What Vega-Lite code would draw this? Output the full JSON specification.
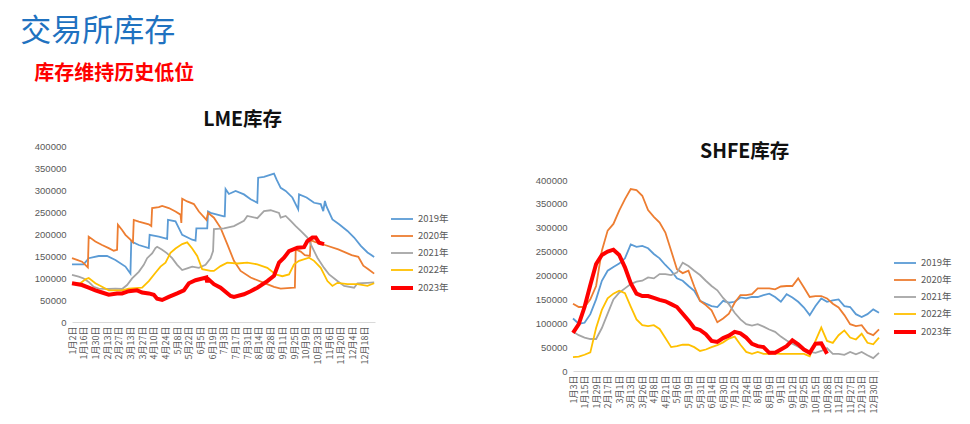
{
"$schema": "https://vega.github.io/schema/vega-lite/v6.json",
"padding": {"left": 20, "top": 15, "right": 0, "bottom": 0},
"config": {
  "view": {"stroke": null},
  "font": "Noto Sans CJK SC",
  "axis": {"labelColor": "#595959", "grid": false, "ticks": false}
},
"title": {"text": "交易所库存", "anchor": "start", "fontSize": 31, "fontWeight": "normal", "color": "#1F72C0", "dx": -14, "offset": 16},
"vconcat": [{
  "title": {"text": "库存维持历史低位", "anchor": "start", "fontSize": 20, "fontWeight": "bold", "color": "#FF0000", "offset": 26},
  "spacing": 86,
  "resolve": {"scale": {"color": "independent", "strokeWidth": "independent"}, "legend": {"color": "independent", "strokeWidth": "independent"}},
  "hconcat": [
  {
    "width": 303, "height": 176,
    "title": {"text": "LME库存", "fontSize": 19.5, "fontWeight": "bold", "color": "#111111", "anchor": "middle", "frame": "bounds", "offset": 11, "dx": 1},
    "data": {"values": [
{"series":"2019年","date":"2023/01/02","value":131000},{"series":"2019年","date":"2023/01/16","value":131000},{"series":"2019年","date":"2023/01/22","value":145000},{"series":"2019年","date":"2023/02/03","value":150000},{"series":"2019年","date":"2023/02/13","value":150000},{"series":"2019年","date":"2023/02/23","value":141000},{"series":"2019年","date":"2023/03/07","value":126000},{"series":"2019年","date":"2023/03/13","value":110000},{"series":"2019年","date":"2023/03/14","value":183000},{"series":"2019年","date":"2023/03/23","value":175000},{"series":"2019年","date":"2023/04/04","value":168000},{"series":"2019年","date":"2023/04/05","value":198000},{"series":"2019年","date":"2023/04/16","value":194000},{"series":"2019年","date":"2023/04/26","value":189000},{"series":"2019年","date":"2023/04/27","value":232000},{"series":"2019年","date":"2023/05/06","value":229000},{"series":"2019年","date":"2023/05/14","value":198000},{"series":"2019年","date":"2023/05/26","value":187000},{"series":"2019年","date":"2023/05/30","value":185000},{"series":"2019年","date":"2023/05/31","value":213000},{"series":"2019年","date":"2023/06/13","value":213000},{"series":"2019年","date":"2023/06/14","value":251000},{"series":"2019年","date":"2023/06/17","value":248000},{"series":"2019年","date":"2023/07/03","value":240000},{"series":"2019年","date":"2023/07/04","value":240000},{"series":"2019年","date":"2023/07/05","value":302000},{"series":"2019年","date":"2023/07/09","value":291000},{"series":"2019年","date":"2023/07/17","value":298000},{"series":"2019年","date":"2023/07/27","value":290000},{"series":"2019年","date":"2023/08/04","value":279000},{"series":"2019年","date":"2023/08/12","value":271000},{"series":"2019年","date":"2023/08/13","value":328000},{"series":"2019年","date":"2023/08/20","value":330000},{"series":"2019年","date":"2023/09/01","value":337000},{"series":"2019年","date":"2023/09/04","value":324000},{"series":"2019年","date":"2023/09/09","value":305000},{"series":"2019年","date":"2023/09/15","value":298000},{"series":"2019年","date":"2023/09/23","value":283000},{"series":"2019年","date":"2023/09/30","value":256000},{"series":"2019年","date":"2023/10/01","value":290000},{"series":"2019年","date":"2023/10/10","value":283000},{"series":"2019年","date":"2023/10/19","value":271000},{"series":"2019年","date":"2023/10/27","value":268000},{"series":"2019年","date":"2023/10/30","value":252000},{"series":"2019年","date":"2023/11/01","value":275000},{"series":"2019年","date":"2023/11/03","value":262000},{"series":"2019年","date":"2023/11/10","value":233000},{"series":"2019年","date":"2023/11/18","value":222000},{"series":"2019年","date":"2023/11/28","value":207000},{"series":"2019年","date":"2023/12/06","value":192000},{"series":"2019年","date":"2023/12/14","value":173000},{"series":"2019年","date":"2023/12/22","value":158000},{"series":"2019年","date":"2023/12/30","value":148000},
{"series":"2020年","date":"2023/01/02","value":145000},{"series":"2020年","date":"2023/01/08","value":141000},{"series":"2020年","date":"2023/01/14","value":137000},{"series":"2020年","date":"2023/01/21","value":124000},{"series":"2020年","date":"2023/01/22","value":194000},{"series":"2020年","date":"2023/01/30","value":183000},{"series":"2020年","date":"2023/02/07","value":175000},{"series":"2020年","date":"2023/02/15","value":168000},{"series":"2020年","date":"2023/02/21","value":162000},{"series":"2020年","date":"2023/02/25","value":164000},{"series":"2020年","date":"2023/02/26","value":221000},{"series":"2020年","date":"2023/03/03","value":209000},{"series":"2020年","date":"2023/03/07","value":198000},{"series":"2020年","date":"2023/03/13","value":187000},{"series":"2020年","date":"2023/03/16","value":181000},{"series":"2020年","date":"2023/03/17","value":232000},{"series":"2020年","date":"2023/03/23","value":228000},{"series":"2020年","date":"2023/04/04","value":222000},{"series":"2020年","date":"2023/04/07","value":218000},{"series":"2020年","date":"2023/04/08","value":259000},{"series":"2020年","date":"2023/04/16","value":261000},{"series":"2020年","date":"2023/04/20","value":264000},{"series":"2020年","date":"2023/04/28","value":259000},{"series":"2020年","date":"2023/05/06","value":251000},{"series":"2020年","date":"2023/05/12","value":244000},{"series":"2020年","date":"2023/05/13","value":225000},{"series":"2020年","date":"2023/05/14","value":280000},{"series":"2020年","date":"2023/05/20","value":274000},{"series":"2020年","date":"2023/05/28","value":268000},{"series":"2020年","date":"2023/06/03","value":251000},{"series":"2020年","date":"2023/06/12","value":232000},{"series":"2020年","date":"2023/06/14","value":248000},{"series":"2020年","date":"2023/06/21","value":237000},{"series":"2020年","date":"2023/06/29","value":214000},{"series":"2020年","date":"2023/07/07","value":177000},{"series":"2020年","date":"2023/07/15","value":139000},{"series":"2020年","date":"2023/07/23","value":116000},{"series":"2020年","date":"2023/08/04","value":101000},{"series":"2020年","date":"2023/08/20","value":89000},{"series":"2020年","date":"2023/09/01","value":80000},{"series":"2020年","date":"2023/09/09","value":76000},{"series":"2020年","date":"2023/09/25","value":78000},{"series":"2020年","date":"2023/09/26","value":78000},{"series":"2020年","date":"2023/09/27","value":165000},{"series":"2020年","date":"2023/10/03","value":160000},{"series":"2020年","date":"2023/10/08","value":152000},{"series":"2020年","date":"2023/10/14","value":150000},{"series":"2020年","date":"2023/10/15","value":186000},{"series":"2020年","date":"2023/10/20","value":182000},{"series":"2020年","date":"2023/11/01","value":175000},{"series":"2020年","date":"2023/11/17","value":165000},{"series":"2020年","date":"2023/12/03","value":152000},{"series":"2020年","date":"2023/12/11","value":148000},{"series":"2020年","date":"2023/12/17","value":128000},{"series":"2020年","date":"2023/12/23","value":120000},{"series":"2020年","date":"2023/12/30","value":110000},
{"series":"2021年","date":"2023/01/02","value":107000},{"series":"2021年","date":"2023/01/10","value":103000},{"series":"2021年","date":"2023/01/16","value":99000},{"series":"2021年","date":"2023/01/22","value":91000},{"series":"2021年","date":"2023/01/28","value":80000},{"series":"2021年","date":"2023/02/03","value":76000},{"series":"2021年","date":"2023/02/15","value":75000},{"series":"2021年","date":"2023/02/23","value":76000},{"series":"2021年","date":"2023/03/03","value":75000},{"series":"2021年","date":"2023/03/09","value":84000},{"series":"2021年","date":"2023/03/15","value":99000},{"series":"2021年","date":"2023/03/23","value":114000},{"series":"2021年","date":"2023/03/29","value":130000},{"series":"2021年","date":"2023/04/02","value":145000},{"series":"2021年","date":"2023/04/08","value":156000},{"series":"2021年","date":"2023/04/12","value":168000},{"series":"2021年","date":"2023/04/14","value":171000},{"series":"2021年","date":"2023/04/20","value":164000},{"series":"2021年","date":"2023/04/26","value":156000},{"series":"2021年","date":"2023/05/02","value":145000},{"series":"2021年","date":"2023/05/08","value":130000},{"series":"2021年","date":"2023/05/14","value":118000},{"series":"2021年","date":"2023/05/20","value":122000},{"series":"2021年","date":"2023/05/26","value":126000},{"series":"2021年","date":"2023/06/03","value":123000},{"series":"2021年","date":"2023/06/11","value":130000},{"series":"2021年","date":"2023/06/17","value":145000},{"series":"2021年","date":"2023/06/20","value":161000},{"series":"2021年","date":"2023/06/21","value":211000},{"series":"2021年","date":"2023/07/03","value":213000},{"series":"2021年","date":"2023/07/15","value":218000},{"series":"2021年","date":"2023/07/27","value":230000},{"series":"2021年","date":"2023/07/31","value":241000},{"series":"2021年","date":"2023/08/12","value":236000},{"series":"2021年","date":"2023/08/20","value":252000},{"series":"2021年","date":"2023/08/28","value":254000},{"series":"2021年","date":"2023/09/07","value":248000},{"series":"2021年","date":"2023/09/09","value":237000},{"series":"2021年","date":"2023/09/15","value":241000},{"series":"2021年","date":"2023/09/21","value":230000},{"series":"2021年","date":"2023/09/27","value":218000},{"series":"2021年","date":"2023/10/03","value":207000},{"series":"2021年","date":"2023/10/11","value":192000},{"series":"2021年","date":"2023/10/17","value":169000},{"series":"2021年","date":"2023/10/23","value":146000},{"series":"2021年","date":"2023/10/31","value":123000},{"series":"2021年","date":"2023/11/06","value":108000},{"series":"2021年","date":"2023/11/16","value":93000},{"series":"2021年","date":"2023/11/24","value":82000},{"series":"2021年","date":"2023/12/06","value":78000},{"series":"2021年","date":"2023/12/10","value":88000},{"series":"2021年","date":"2023/12/22","value":89000},{"series":"2021年","date":"2023/12/30","value":90000},
{"series":"2022年","date":"2023/01/02","value":88000},{"series":"2022年","date":"2023/01/12","value":88000},{"series":"2022年","date":"2023/01/18","value":97000},{"series":"2022年","date":"2023/01/22","value":100000},{"series":"2022年","date":"2023/01/30","value":88000},{"series":"2022年","date":"2023/02/07","value":80000},{"series":"2022年","date":"2023/02/15","value":72000},{"series":"2022年","date":"2023/03/03","value":72000},{"series":"2022年","date":"2023/03/11","value":76000},{"series":"2022年","date":"2023/03/27","value":78000},{"series":"2022年","date":"2023/04/04","value":93000},{"series":"2022年","date":"2023/04/12","value":112000},{"series":"2022年","date":"2023/04/18","value":126000},{"series":"2022年","date":"2023/04/24","value":135000},{"series":"2022年","date":"2023/04/30","value":157000},{"series":"2022年","date":"2023/05/06","value":167000},{"series":"2022年","date":"2023/05/14","value":177000},{"series":"2022年","date":"2023/05/20","value":181000},{"series":"2022年","date":"2023/05/26","value":167000},{"series":"2022年","date":"2023/06/01","value":150000},{"series":"2022年","date":"2023/06/07","value":120000},{"series":"2022年","date":"2023/06/17","value":116000},{"series":"2022年","date":"2023/06/21","value":116000},{"series":"2022年","date":"2023/06/29","value":127000},{"series":"2022年","date":"2023/07/07","value":135000},{"series":"2022年","date":"2023/07/19","value":133000},{"series":"2022年","date":"2023/07/31","value":135000},{"series":"2022年","date":"2023/08/12","value":131000},{"series":"2022年","date":"2023/08/24","value":123000},{"series":"2022年","date":"2023/09/03","value":108000},{"series":"2022年","date":"2023/09/11","value":104000},{"series":"2022年","date":"2023/09/19","value":108000},{"series":"2022年","date":"2023/09/25","value":131000},{"series":"2022年","date":"2023/10/01","value":139000},{"series":"2022年","date":"2023/10/13","value":146000},{"series":"2022年","date":"2023/10/19","value":139000},{"series":"2022年","date":"2023/10/27","value":123000},{"series":"2022年","date":"2023/11/04","value":93000},{"series":"2022年","date":"2023/11/10","value":82000},{"series":"2022年","date":"2023/11/16","value":89000},{"series":"2022年","date":"2023/11/28","value":86000},{"series":"2022年","date":"2023/12/10","value":86000},{"series":"2022年","date":"2023/12/22","value":82000},{"series":"2022年","date":"2023/12/30","value":88000},
{"series":"2023年","date":"2023/01/02","value":88000},{"series":"2023年","date":"2023/01/14","value":84000},{"series":"2023年","date":"2023/01/22","value":78000},{"series":"2023年","date":"2023/01/30","value":72000},{"series":"2023年","date":"2023/02/07","value":67000},{"series":"2023年","date":"2023/02/15","value":62000},{"series":"2023年","date":"2023/02/25","value":65000},{"series":"2023年","date":"2023/03/03","value":65000},{"series":"2023年","date":"2023/03/11","value":70000},{"series":"2023年","date":"2023/03/21","value":72000},{"series":"2023年","date":"2023/03/27","value":67000},{"series":"2023年","date":"2023/04/04","value":65000},{"series":"2023年","date":"2023/04/10","value":62000},{"series":"2023年","date":"2023/04/14","value":53000},{"series":"2023年","date":"2023/04/20","value":50000},{"series":"2023年","date":"2023/04/28","value":57000},{"series":"2023年","date":"2023/05/08","value":65000},{"series":"2023年","date":"2023/05/16","value":72000},{"series":"2023年","date":"2023/05/22","value":88000},{"series":"2023年","date":"2023/05/30","value":95000},{"series":"2023年","date":"2023/06/12","value":101000},{"series":"2023年","date":"2023/06/13","value":90000},{"series":"2023年","date":"2023/06/14","value":98000},{"series":"2023年","date":"2023/06/21","value":86000},{"series":"2023年","date":"2023/06/29","value":78000},{"series":"2023年","date":"2023/07/11","value":59000},{"series":"2023年","date":"2023/07/15","value":57000},{"series":"2023年","date":"2023/07/27","value":63000},{"series":"2023年","date":"2023/08/04","value":70000},{"series":"2023年","date":"2023/08/12","value":78000},{"series":"2023年","date":"2023/08/24","value":93000},{"series":"2023年","date":"2023/09/01","value":105000},{"series":"2023年","date":"2023/09/07","value":135000},{"series":"2023年","date":"2023/09/13","value":146000},{"series":"2023年","date":"2023/09/19","value":161000},{"series":"2023年","date":"2023/09/29","value":169000},{"series":"2023年","date":"2023/10/07","value":170000},{"series":"2023年","date":"2023/10/11","value":184000},{"series":"2023年","date":"2023/10/17","value":192000},{"series":"2023年","date":"2023/10/21","value":192000},{"series":"2023年","date":"2023/10/25","value":180000},{"series":"2023年","date":"2023/10/31","value":177000}
    ]},
    "mark": {"type": "line"},
    "encoding": {
      "x": {"field": "date", "type": "temporal",
        "scale": {"domain": [{"year": 2023, "month": 1, "date": 2}, {"year": 2023, "month": 12, "date": 31}]},
        "axis": {"title": null, "format": "%-m月%-d日", "labelAngle": -90, "labelFontSize": 9, "labelOverlap": false, "labelFlush": false, "labelPadding": 4, "domainColor": "#D9D9D9",
          "values": [{"year":2023,"month":1,"date":2},{"year":2023,"month":1,"date":16},{"year":2023,"month":1,"date":30},{"year":2023,"month":2,"date":13},{"year":2023,"month":2,"date":27},{"year":2023,"month":3,"date":13},{"year":2023,"month":3,"date":27},{"year":2023,"month":4,"date":10},{"year":2023,"month":4,"date":24},{"year":2023,"month":5,"date":8},{"year":2023,"month":5,"date":22},{"year":2023,"month":6,"date":5},{"year":2023,"month":6,"date":19},{"year":2023,"month":7,"date":3},{"year":2023,"month":7,"date":17},{"year":2023,"month":7,"date":31},{"year":2023,"month":8,"date":14},{"year":2023,"month":8,"date":28},{"year":2023,"month":9,"date":11},{"year":2023,"month":9,"date":25},{"year":2023,"month":10,"date":9},{"year":2023,"month":10,"date":23},{"year":2023,"month":11,"date":6},{"year":2023,"month":11,"date":20},{"year":2023,"month":12,"date":4},{"year":2023,"month":12,"date":18}]}},
      "y": {"field": "value", "type": "quantitative", "scale": {"domain": [0, 400000]},
        "axis": {"title": null, "format": "d", "values": [0,50000,100000,150000,200000,250000,300000,350000,400000], "domain": false, "labelFont": "Liberation Sans", "labelFontSize": 9.5, "labelPadding": 6}},
      "color": {"field": "series", "type": "nominal",
        "scale": {"domain": ["2019年","2020年","2021年","2022年","2023年"], "range": ["#5B9BD5","#ED7D31","#A5A5A5","#FFC000","#FF0000"]},
        "legend": {"title": null, "orient": "none", "legendX": 317, "legendY": 61, "symbolType": "stroke", "symbolSize": 484, "labelFontSize": 9.5, "labelColor": "#595959", "rowPadding": -5, "labelOffset": 3}},
      "strokeWidth": {"field": "series", "type": "ordinal",
        "scale": {"type": "ordinal", "domain": ["2019年","2020年","2021年","2022年","2023年"], "range": [1.8,1.8,1.8,1.8,4]},
        "legend": {"title": null, "orient": "none", "legendX": 317, "legendY": 61, "symbolType": "stroke", "symbolSize": 484, "labelFontSize": 9.5, "labelColor": "#595959", "rowPadding": -5, "labelOffset": 3}}
    }
  },
  {
    "width": 306, "height": 225,
    "title": {"text": "SHFE库存", "fontSize": 19.5, "fontWeight": "bold", "color": "#111111", "anchor": "middle", "frame": "bounds", "offset": 11, "dx": 1, "dy": 27},
    "data": {"values": [
{"series":"2019年","date":"1月3日","value":110000},{"series":"2019年","date":"1月8日","value":99000},{"series":"2019年","date":"1月15日","value":101000},{"series":"2019年","date":"1月22日","value":119000},{"series":"2019年","date":"1月29日","value":150000},{"series":"2019年","date":"2月10日","value":189000},{"series":"2019年","date":"2月17日","value":210000},{"series":"2019年","date":"2月24日","value":218000},{"series":"2019年","date":"3月1日","value":225000},{"series":"2019年","date":"3月7日","value":236000},{"series":"2019年","date":"3月13日","value":265000},{"series":"2019年","date":"3月19日","value":260000},{"series":"2019年","date":"3月26日","value":262000},{"series":"2019年","date":"4月1日","value":257000},{"series":"2019年","date":"4月8日","value":245000},{"series":"2019年","date":"4月15日","value":236000},{"series":"2019年","date":"4月21日","value":222000},{"series":"2019年","date":"4月28日","value":210000},{"series":"2019年","date":"5月6日","value":194000},{"series":"2019年","date":"5月12日","value":189000},{"series":"2019年","date":"5月19日","value":178000},{"series":"2019年","date":"5月25日","value":168000},{"series":"2019年","date":"5月31日","value":147000},{"series":"2019年","date":"6月7日","value":141000},{"series":"2019年","date":"6月14日","value":136000},{"series":"2019年","date":"6月21日","value":134000},{"series":"2019年","date":"6月30日","value":147000},{"series":"2019年","date":"7月6日","value":143000},{"series":"2019年","date":"7月12日","value":145000},{"series":"2019年","date":"7月18日","value":154000},{"series":"2019年","date":"7月24日","value":152000},{"series":"2019年","date":"7月31日","value":155000},{"series":"2019年","date":"8月6日","value":155000},{"series":"2019年","date":"8月12日","value":159000},{"series":"2019年","date":"8月19日","value":162000},{"series":"2019年","date":"8月26日","value":155000},{"series":"2019年","date":"9月1日","value":145000},{"series":"2019年","date":"9月6日","value":161000},{"series":"2019年","date":"9月12日","value":154000},{"series":"2019年","date":"9月19日","value":145000},{"series":"2019年","date":"9月25日","value":133000},{"series":"2019年","date":"10月8日","value":117000},{"series":"2019年","date":"10月15日","value":136000},{"series":"2019年","date":"10月21日","value":152000},{"series":"2019年","date":"10月28日","value":145000},{"series":"2019年","date":"11月4日","value":148000},{"series":"2019年","date":"11月12日","value":150000},{"series":"2019年","date":"11月19日","value":136000},{"series":"2019年","date":"11月27日","value":134000},{"series":"2019年","date":"12月5日","value":119000},{"series":"2019年","date":"12月13日","value":113000},{"series":"2019年","date":"12月20日","value":119000},{"series":"2019年","date":"12月30日","value":129000},{"series":"2019年","date":"1月6日","value":122000},
{"series":"2020年","date":"1月3日","value":141000},{"series":"2020年","date":"1月8日","value":134000},{"series":"2020年","date":"1月15日","value":134000},{"series":"2020年","date":"1月22日","value":150000},{"series":"2020年","date":"1月29日","value":178000},{"series":"2020年","date":"2月10日","value":252000},{"series":"2020年","date":"2月17日","value":294000},{"series":"2020年","date":"2月24日","value":308000},{"series":"2020年","date":"3月1日","value":336000},{"series":"2020年","date":"3月7日","value":360000},{"series":"2020年","date":"3月13日","value":381000},{"series":"2020年","date":"3月19日","value":379000},{"series":"2020年","date":"3月26日","value":367000},{"series":"2020年","date":"4月1日","value":337000},{"series":"2020年","date":"4月8日","value":323000},{"series":"2020年","date":"4月15日","value":311000},{"series":"2020年","date":"4月21日","value":290000},{"series":"2020年","date":"4月28日","value":252000},{"series":"2020年","date":"5月6日","value":213000},{"series":"2020年","date":"5月12日","value":205000},{"series":"2020年","date":"5月19日","value":210000},{"series":"2020年","date":"5月25日","value":177000},{"series":"2020年","date":"5月31日","value":147000},{"series":"2020年","date":"6月7日","value":138000},{"series":"2020年","date":"6月14日","value":127000},{"series":"2020年","date":"6月21日","value":102000},{"series":"2020年","date":"6月30日","value":110000},{"series":"2020年","date":"7月6日","value":120000},{"series":"2020年","date":"7月12日","value":143000},{"series":"2020年","date":"7月18日","value":159000},{"series":"2020年","date":"7月24日","value":159000},{"series":"2020年","date":"7月31日","value":161000},{"series":"2020年","date":"8月6日","value":173000},{"series":"2020年","date":"8月12日","value":173000},{"series":"2020年","date":"8月19日","value":173000},{"series":"2020年","date":"8月26日","value":171000},{"series":"2020年","date":"9月1日","value":177000},{"series":"2020年","date":"9月6日","value":178000},{"series":"2020年","date":"9月12日","value":178000},{"series":"2020年","date":"9月19日","value":194000},{"series":"2020年","date":"9月25日","value":175000},{"series":"2020年","date":"10月8日","value":155000},{"series":"2020年","date":"10月15日","value":157000},{"series":"2020年","date":"10月21日","value":157000},{"series":"2020年","date":"10月28日","value":152000},{"series":"2020年","date":"11月4日","value":141000},{"series":"2020年","date":"11月12日","value":133000},{"series":"2020年","date":"11月19日","value":117000},{"series":"2020年","date":"11月27日","value":98000},{"series":"2020年","date":"12月5日","value":94000},{"series":"2020年","date":"12月13日","value":96000},{"series":"2020年","date":"12月20日","value":80000},{"series":"2020年","date":"12月30日","value":75000},{"series":"2020年","date":"1月6日","value":87000},
{"series":"2021年","date":"1月3日","value":82000},{"series":"2021年","date":"1月8日","value":75000},{"series":"2021年","date":"1月15日","value":70000},{"series":"2021年","date":"1月22日","value":67000},{"series":"2021年","date":"1月29日","value":67000},{"series":"2021年","date":"2月10日","value":90000},{"series":"2021年","date":"2月17日","value":120000},{"series":"2021年","date":"2月24日","value":150000},{"series":"2021年","date":"3月1日","value":164000},{"series":"2021年","date":"3月7日","value":173000},{"series":"2021年","date":"3月13日","value":182000},{"series":"2021年","date":"3月19日","value":187000},{"series":"2021年","date":"3月26日","value":189000},{"series":"2021年","date":"4月1日","value":196000},{"series":"2021年","date":"4月8日","value":194000},{"series":"2021年","date":"4月15日","value":203000},{"series":"2021年","date":"4月21日","value":203000},{"series":"2021年","date":"4月28日","value":201000},{"series":"2021年","date":"5月6日","value":206000},{"series":"2021年","date":"5月12日","value":227000},{"series":"2021年","date":"5月19日","value":220000},{"series":"2021年","date":"5月25日","value":210000},{"series":"2021年","date":"5月31日","value":201000},{"series":"2021年","date":"6月7日","value":189000},{"series":"2021年","date":"6月14日","value":178000},{"series":"2021年","date":"6月21日","value":169000},{"series":"2021年","date":"6月30日","value":153000},{"series":"2021年","date":"7月6日","value":140000},{"series":"2021年","date":"7月12日","value":122000},{"series":"2021年","date":"7月18日","value":108000},{"series":"2021年","date":"7月24日","value":98000},{"series":"2021年","date":"7月31日","value":95000},{"series":"2021年","date":"8月6日","value":98000},{"series":"2021年","date":"8月12日","value":93000},{"series":"2021年","date":"8月19日","value":87000},{"series":"2021年","date":"8月26日","value":82000},{"series":"2021年","date":"9月1日","value":72000},{"series":"2021年","date":"9月6日","value":64000},{"series":"2021年","date":"9月12日","value":57000},{"series":"2021年","date":"9月19日","value":51000},{"series":"2021年","date":"9月25日","value":44000},{"series":"2021年","date":"10月8日","value":40000},{"series":"2021年","date":"10月15日","value":38000},{"series":"2021年","date":"10月21日","value":42000},{"series":"2021年","date":"10月28日","value":48000},{"series":"2021年","date":"11月4日","value":36000},{"series":"2021年","date":"11月12日","value":36000},{"series":"2021年","date":"11月19日","value":34000},{"series":"2021年","date":"11月27日","value":40000},{"series":"2021年","date":"12月5日","value":35000},{"series":"2021年","date":"12月13日","value":40000},{"series":"2021年","date":"12月20日","value":33000},{"series":"2021年","date":"12月30日","value":27000},{"series":"2021年","date":"1月6日","value":38000},
{"series":"2022年","date":"1月3日","value":29000},{"series":"2022年","date":"1月8日","value":30000},{"series":"2022年","date":"1月15日","value":34000},{"series":"2022年","date":"1月22日","value":39000},{"series":"2022年","date":"1月29日","value":90000},{"series":"2022年","date":"2月10日","value":128000},{"series":"2022年","date":"2月17日","value":152000},{"series":"2022年","date":"2月24日","value":162000},{"series":"2022年","date":"3月1日","value":168000},{"series":"2022年","date":"3月7日","value":163000},{"series":"2022年","date":"3月13日","value":135000},{"series":"2022年","date":"3月19日","value":108000},{"series":"2022年","date":"3月26日","value":96000},{"series":"2022年","date":"4月1日","value":94000},{"series":"2022年","date":"4月8日","value":96000},{"series":"2022年","date":"4月15日","value":88000},{"series":"2022年","date":"4月21日","value":69000},{"series":"2022年","date":"4月28日","value":50000},{"series":"2022年","date":"5月6日","value":52000},{"series":"2022年","date":"5月12日","value":55000},{"series":"2022年","date":"5月19日","value":55000},{"series":"2022年","date":"5月25日","value":50000},{"series":"2022年","date":"5月31日","value":42000},{"series":"2022年","date":"6月7日","value":45000},{"series":"2022年","date":"6月14日","value":50000},{"series":"2022年","date":"6月21日","value":54000},{"series":"2022年","date":"6月30日","value":60000},{"series":"2022年","date":"7月6日","value":68000},{"series":"2022年","date":"7月12日","value":72000},{"series":"2022年","date":"7月18日","value":55000},{"series":"2022年","date":"7月24日","value":40000},{"series":"2022年","date":"7月31日","value":36000},{"series":"2022年","date":"8月6日","value":40000},{"series":"2022年","date":"8月12日","value":36000},{"series":"2022年","date":"8月19日","value":36000},{"series":"2022年","date":"8月26日","value":37000},{"series":"2022年","date":"9月1日","value":36000},{"series":"2022年","date":"9月6日","value":36000},{"series":"2022年","date":"9月12日","value":36000},{"series":"2022年","date":"9月19日","value":36000},{"series":"2022年","date":"9月25日","value":36000},{"series":"2022年","date":"10月8日","value":31000},{"series":"2022年","date":"10月15日","value":63000},{"series":"2022年","date":"10月21日","value":91000},{"series":"2022年","date":"10月28日","value":63000},{"series":"2022年","date":"11月4日","value":59000},{"series":"2022年","date":"11月12日","value":75000},{"series":"2022年","date":"11月19日","value":85000},{"series":"2022年","date":"11月27日","value":70000},{"series":"2022年","date":"12月5日","value":66000},{"series":"2022年","date":"12月13日","value":78000},{"series":"2022年","date":"12月20日","value":59000},{"series":"2022年","date":"12月30日","value":56000},{"series":"2022年","date":"1月6日","value":70000},
{"series":"2023年","date":"1月3日","value":80000},{"series":"2023年","date":"1月8日","value":98000},{"series":"2023年","date":"1月15日","value":134000},{"series":"2023年","date":"1月22日","value":180000},{"series":"2023年","date":"1月29日","value":224000},{"series":"2023年","date":"2月10日","value":243000},{"series":"2023年","date":"2月17日","value":250000},{"series":"2023年","date":"2月24日","value":254000},{"series":"2023年","date":"3月1日","value":243000},{"series":"2023年","date":"3月7日","value":217000},{"series":"2023年","date":"3月13日","value":184000},{"series":"2023年","date":"3月19日","value":162000},{"series":"2023年","date":"3月26日","value":157000},{"series":"2023年","date":"4月1日","value":157000},{"series":"2023年","date":"4月8日","value":153000},{"series":"2023年","date":"4月15日","value":149000},{"series":"2023年","date":"4月21日","value":146000},{"series":"2023年","date":"4月28日","value":140000},{"series":"2023年","date":"5月6日","value":134000},{"series":"2023年","date":"5月12日","value":120000},{"series":"2023年","date":"5月19日","value":106000},{"series":"2023年","date":"5月25日","value":90000},{"series":"2023年","date":"5月31日","value":86000},{"series":"2023年","date":"6月7日","value":77000},{"series":"2023年","date":"6月14日","value":63000},{"series":"2023年","date":"6月21日","value":61000},{"series":"2023年","date":"6月30日","value":69000},{"series":"2023年","date":"7月6日","value":74000},{"series":"2023年","date":"7月12日","value":82000},{"series":"2023年","date":"7月18日","value":79000},{"series":"2023年","date":"7月24日","value":70000},{"series":"2023年","date":"7月31日","value":57000},{"series":"2023年","date":"8月6日","value":52000},{"series":"2023年","date":"8月12日","value":50000},{"series":"2023年","date":"8月19日","value":38000},{"series":"2023年","date":"8月26日","value":38000},{"series":"2023年","date":"9月1日","value":45000},{"series":"2023年","date":"9月6日","value":52000},{"series":"2023年","date":"9月12日","value":64000},{"series":"2023年","date":"9月19日","value":56000},{"series":"2023年","date":"9月25日","value":45000},{"series":"2023年","date":"10月8日","value":38000},{"series":"2023年","date":"10月15日","value":57000},{"series":"2023年","date":"10月21日","value":58000},{"series":"2023年","date":"10月28日","value":36000}
    ]},
    "mark": {"type": "line"},
    "encoding": {
      "x": {"field": "date", "type": "ordinal", "sort": null, "scale": {"type": "point", "padding": 0},
        "axis": {"title": null, "labelAngle": -90, "labelFontSize": 9, "labelOverlap": false, "labelPadding": 4, "domainColor": "#D9D9D9",
          "values": ["1月3日","1月15日","1月29日","2月17日","3月1日","3月13日","3月26日","4月8日","4月21日","5月6日","5月19日","5月31日","6月14日","6月30日","7月12日","7月24日","8月6日","8月19日","9月1日","9月12日","9月25日","10月15日","10月28日","11月12日","11月27日","12月13日","12月30日"]}},
      "y": {"field": "value", "type": "quantitative", "scale": {"domain": [0, 400000], "range": [225, 34]},
        "axis": {"title": null, "format": "d", "values": [0,50000,100000,150000,200000,250000,300000,350000,400000], "domain": false, "labelFont": "Liberation Sans", "labelFontSize": 9.5, "labelPadding": 6}},
      "color": {"field": "series", "type": "nominal",
        "scale": {"domain": ["2019年","2020年","2021年","2022年","2023年"], "range": ["#5B9BD5","#ED7D31","#A5A5A5","#FFC000","#FF0000"]},
        "legend": {"title": null, "orient": "none", "legendX": 319, "legendY": 105, "symbolType": "stroke", "symbolSize": 484, "labelFontSize": 9.5, "labelColor": "#595959", "rowPadding": -5.7, "labelOffset": 3}},
      "strokeWidth": {"field": "series", "type": "ordinal",
        "scale": {"type": "ordinal", "domain": ["2019年","2020年","2021年","2022年","2023年"], "range": [1.8,1.8,1.8,1.8,4]},
        "legend": {"title": null, "orient": "none", "legendX": 319, "legendY": 105, "symbolType": "stroke", "symbolSize": 484, "labelFontSize": 9.5, "labelColor": "#595959", "rowPadding": -5.7, "labelOffset": 3}}
    }
  }
  ]
}]
}
